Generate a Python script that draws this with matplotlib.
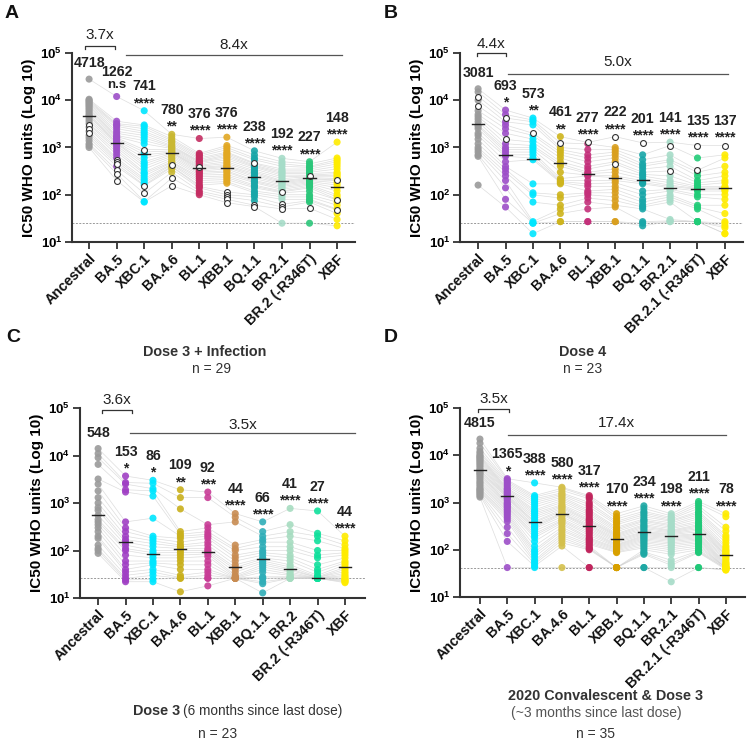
import matplotlib
matplotlib.use("Agg")
import matplotlib.pyplot as plt
import numpy as np

plt.rcParams['font.family'] = ['Liberation Sans', 'DejaVu Sans']
plt.rcParams['mathtext.fontset'] = 'custom'
plt.rcParams['mathtext.rm'] = 'Liberation Sans'
plt.rcParams['mathtext.bf'] = 'Liberation Sans:bold'

# ---------------- data ----------------
variants_A = ["Ancestral", "BA.5", "XBC.1", "BA.4.6", "BL.1", "XBB.1", "BQ.1.1", "BR.2.1", "BR.2 (-R346T)", "XBF"]
variants_B = ["Ancestral", "BA.5", "XBC.1", "BA.4.6", "BL.1", "XBB.1", "BQ.1.1", "BR.2.1", "BR.2.1 (-R346T)", "XBF"]
variants_C = ["Ancestral", "BA.5", "XBC.1", "BA.4.6", "BL.1", "XBB.1", "BQ.1.1", "BR.2", "BR.2 (-R346T)", "XBF"]
variants_D = ["Ancestral", "BA.5", "XBC.1", "BA.4.6", "BL.1", "XBB.1", "BQ.1.1", "BR.2.1", "BR.2.1 (-R346T)", "XBF"]

values_A = [
    [28000, 10500, 10000, 9500, 9000, 8500, 8000, 7500, 7000, 6500, 6000, 5500, 5000, 4700, 4500, 4000, 3600, 3200, 3000, 2700, 2500, 2200, 2000, 1800, 1600, 1400, 1200, 1100, 1000],
    [12000, 3600, 3200, 3000, 2800, 2500, 2200, 2000, 1800, 1700, 1600, 1500, 1400, 1300, 1250, 1200, 1100, 1000, 900, 800, 700, 600, 550, 500, 450, 400, 330, 280, 200],
    [6000, 3000, 2800, 2500, 2200, 2000, 1800, 1600, 1400, 1200, 900, 800, 700, 600, 500, 450, 400, 350, 300, 280, 250, 220, 200, 180, 160, 155, 107, 72, 70],
    [1900, 1700, 1500, 1400, 1300, 1200, 1100, 1050, 1000, 950, 900, 850, 800, 780, 750, 700, 650, 600, 550, 500, 480, 450, 430, 400, 390, 350, 300, 225, 155],
    [1550, 750, 700, 650, 600, 560, 520, 500, 480, 450, 420, 400, 380, 360, 340, 320, 300, 280, 260, 240, 220, 200, 180, 160, 150, 140, 120, 110, 100],
    [1650, 1100, 1000, 900, 800, 750, 700, 650, 600, 550, 500, 460, 420, 400, 380, 350, 320, 300, 270, 250, 230, 210, 190, 175, 115, 100, 90, 80, 68],
    [850, 700, 600, 550, 470, 450, 420, 400, 380, 350, 320, 300, 280, 260, 240, 220, 200, 190, 180, 160, 150, 140, 120, 110, 100, 90, 75, 60, 56],
    [590, 500, 450, 400, 350, 320, 300, 280, 260, 240, 220, 200, 190, 180, 170, 160, 150, 140, 130, 120, 115, 110, 100, 90, 80, 63, 55, 50, 25],
    [500, 450, 400, 380, 350, 320, 300, 280, 260, 250, 240, 230, 220, 210, 200, 190, 180, 170, 160, 150, 140, 120, 100, 90, 80, 75, 70, 52, 25],
    [1300, 600, 550, 500, 450, 400, 350, 300, 280, 260, 240, 220, 205, 200, 180, 160, 140, 120, 100, 90, 80, 78, 70, 60, 50, 48, 40, 30, 22],
]
open_A = [[18, 20, 22], [22, 23, 24, 26, 27, 28], [10, 25, 26], [22, 27, 28], [12], [24, 25, 26, 27, 28], [4, 27, 28], [20, 25, 26, 27], [9, 27], [12, 21, 25]]

values_B = [
    [17500, 15000, 12000, 10000, 7600, 6000, 5000, 4500, 4000, 3500, 3000, 2800, 2500, 2000, 1800, 1500, 1200, 1000, 900, 800, 700, 650, 160],
    [6200, 5000, 4200, 3500, 3000, 2500, 2000, 1480, 1200, 1000, 900, 800, 700, 650, 500, 400, 350, 300, 250, 200, 140, 80, 55],
    [4200, 3800, 3500, 3000, 2000, 1800, 1500, 1300, 1100, 1000, 900, 800, 700, 600, 550, 170, 110, 100, 70, 27, 25, 25, 15],
    [1700, 1250, 1000, 900, 800, 700, 600, 500, 450, 400, 300, 220, 200, 190, 180, 170, 100, 85, 60, 50, 40, 27, 27],
    [1280, 1200, 900, 700, 600, 500, 400, 350, 300, 280, 260, 250, 200, 170, 150, 120, 110, 100, 85, 70, 50, 27, 27],
    [1700, 1000, 900, 800, 700, 600, 500, 450, 350, 300, 250, 230, 200, 180, 150, 130, 110, 90, 75, 60, 55, 27, 27],
    [1250, 700, 550, 450, 400, 350, 300, 270, 250, 220, 200, 180, 170, 120, 100, 80, 70, 60, 55, 50, 27, 25, 22],
    [1300, 1100, 700, 550, 500, 400, 320, 250, 200, 180, 160, 150, 140, 130, 120, 100, 90, 80, 70, 30, 28, 27, 27],
    [1100, 600, 330, 300, 250, 200, 180, 160, 150, 140, 135, 130, 120, 100, 90, 60, 55, 50, 27, 27, 27, 27, 27],
    [1100, 700, 600, 400, 300, 250, 200, 180, 150, 140, 137, 130, 120, 100, 80, 60, 40, 27, 25, 22, 20, 15, 15],
]
open_B = [[2, 4], [2, 7], [4], [1], [0], [0, 7], [0], [1, 6], [0, 2], [0]]

values_C = [
    [14000, 11000, 9000, 6500, 3200, 2500, 1800, 1300, 1000, 800, 700, 550, 450, 400, 350, 300, 250, 200, 180, 130, 110, 100, 87],
    [3700, 2700, 2500, 1900, 1700, 400, 300, 250, 200, 170, 150, 130, 110, 100, 80, 60, 50, 40, 35, 30, 26, 24, 22],
    [3000, 2600, 2000, 1800, 1400, 480, 200, 180, 160, 140, 120, 100, 90, 80, 70, 60, 55, 50, 40, 35, 30, 25, 22],
    [1900, 1300, 750, 250, 220, 200, 180, 150, 130, 120, 110, 100, 90, 80, 70, 60, 50, 40, 30, 27, 26, 26, 13.5],
    [1700, 1300, 350, 300, 250, 220, 200, 180, 150, 130, 110, 100, 92, 85, 75, 60, 50, 40, 35, 30, 26, 26, 18],
    [600, 500, 400, 130, 110, 100, 80, 70, 60, 50, 44, 40, 35, 30, 28, 27, 26, 26, 26, 26, 26, 26, 26],
    [400, 250, 200, 170, 150, 120, 100, 90, 80, 70, 66, 60, 55, 50, 45, 40, 35, 28, 26, 26, 22, 20, 12.8],
    [770, 350, 250, 200, 150, 120, 100, 80, 70, 60, 50, 45, 41, 38, 35, 32, 30, 28, 27, 26, 26, 26, 26],
    [680, 230, 200, 160, 100, 80, 70, 50, 40, 35, 30, 28, 27, 27, 26, 26, 26, 26, 26, 26, 26, 26, 26],
    [200, 160, 130, 110, 100, 90, 80, 70, 60, 55, 50, 44, 40, 36, 33, 30, 28, 26, 25, 24, 23, 22, 21],
]
open_C = [[] for _ in range(10)]

values_D = [
    [22000, 18000, 14000, 12000, 11000, 10000, 9500, 9000, 8500, 8000, 7500, 7000, 6500, 6000, 5500, 5000, 4800, 4500, 4200, 4000, 3700, 3400, 3100, 2800, 2600, 2400, 2200, 2000, 1900, 1800, 1700, 1600, 1500, 1400, 1300],
    [3200, 3000, 2800, 2600, 2400, 2200, 2000, 1900, 1800, 1700, 1600, 1500, 1400, 1350, 1300, 1250, 1200, 1100, 1000, 950, 900, 850, 800, 750, 700, 650, 600, 550, 500, 450, 400, 300, 220, 150, 42],
    [2600, 1400, 1300, 1200, 1100, 1000, 900, 800, 700, 650, 600, 550, 500, 450, 400, 380, 350, 320, 300, 280, 250, 220, 200, 180, 150, 120, 100, 90, 80, 70, 60, 55, 50, 45, 42],
    [2100, 2000, 1800, 1600, 1500, 1400, 1300, 1200, 1100, 1000, 900, 850, 800, 750, 700, 650, 600, 580, 550, 500, 450, 420, 400, 370, 340, 300, 270, 250, 220, 200, 180, 160, 140, 120, 42],
    [1400, 1300, 1200, 1000, 900, 800, 700, 650, 600, 550, 500, 450, 420, 400, 370, 340, 320, 300, 280, 260, 240, 220, 200, 180, 170, 160, 150, 140, 130, 120, 110, 105, 100, 42, 42],
    [580, 500, 450, 400, 370, 340, 300, 280, 260, 240, 220, 210, 200, 190, 180, 170, 160, 150, 140, 130, 125, 120, 115, 110, 105, 100, 95, 90, 87, 42, 42, 42, 42, 42, 42],
    [850, 750, 650, 600, 550, 500, 450, 420, 400, 370, 340, 320, 300, 280, 260, 240, 230, 220, 210, 200, 190, 180, 170, 160, 150, 140, 130, 120, 110, 100, 90, 85, 80, 42, 42],
    [580, 520, 480, 450, 420, 400, 370, 340, 320, 300, 280, 260, 250, 240, 230, 220, 210, 200, 190, 180, 170, 160, 150, 140, 130, 120, 110, 100, 90, 80, 60, 52, 47, 42, 21],
    [1050, 950, 850, 750, 650, 600, 550, 500, 450, 400, 370, 340, 320, 300, 280, 260, 240, 220, 210, 200, 190, 180, 170, 160, 150, 140, 130, 120, 110, 100, 95, 90, 87, 42, 42],
    [580, 500, 300, 250, 200, 180, 160, 140, 120, 110, 100, 95, 90, 85, 80, 78, 75, 70, 65, 60, 55, 52, 50, 48, 46, 44, 42, 42, 42, 42, 40, 40, 38, 38, 37],
]
open_D = [[] for _ in range(10)]

gmt_A = [4718, 1262, 741, 780, 376, 376, 238, 192, 227, 148]
gmt_B = [3081, 693, 573, 461, 277, 222, 201, 141, 135, 137]
gmt_C = [548, 153, 86, 109, 92, 44, 66, 41, 27, 44]
gmt_D = [4815, 1365, 388, 580, 317, 170, 234, 198, 211, 78]

sig_A = ["", "n.s", "****", "**", "****", "****", "****", "****", "****", "****"]
sig_B = ["", "*", "**", "**", "****", "****", "****", "****", "****", "****"]
sig_C = ["", "*", "*", "**", "***", "****", "****", "****", "****", "****"]
sig_D = ["", "*", "****", "****", "****", "****", "****", "****", "****", "****"]

fold_A = ["3.7x", "8.4x"]
fold_B = ["4.4x", "5.0x"]
fold_C = ["3.6x", "3.5x"]
fold_D = ["3.5x", "17.4x"]

lod_A, lod_B, lod_C, lod_D = 25, 25, 26, 42

colors_A = ["#9a9a9a", "#9d4fc8", "#00e6ff", "#c9b832", "#c42d62", "#e2a823", "#18a6a8", "#a6dcc8", "#2cc67a", "#ffec00"]
colors_B = ["#9a9a9a", "#9d4fc8", "#00e6ff", "#ceb41c", "#c4307a", "#d99f1e", "#18a6a8", "#a6dcc8", "#22cc78", "#ffec00"]
colors_C = ["#9a9a9a", "#a040c4", "#00e6ff", "#c9b01c", "#c83c96", "#c88c52", "#30aeb8", "#a6dcc0", "#10e09c", "#ffec00"]
colors_D = ["#9a9a9a", "#9d4fc8", "#00e6ff", "#d4c04c", "#c0245c", "#d8a000", "#1ea8a4", "#a6dcc8", "#20c878", "#ffec00"]

W, H = 747, 741
fig = plt.figure(figsize=(W / 100, H / 100), dpi=100)


def px_axes(l, t, r, b):
    return fig.add_axes([l / W, 1 - b / H, (r - l) / W, (b - t) / H])


def ylog_px(ax, y_px):
    pos = ax.get_position()
    top = (1 - pos.y1) * H
    bot = (1 - pos.y0) * H
    lo, hi = np.log10(ax.get_ylim())
    return 10 ** (lo + (bot - y_px) / (bot - top) * (hi - lo))


def draw_panel(ax, names, vals, opens, gmts, sigs, folds, lod, cols, xlim,
               br, ln):
    n = len(vals[0])
    x = np.arange(len(names))
    for i in range(n):
        ax.plot(x, [v[i] for v in vals], color="#cfcfcf", lw=0.5, alpha=0.7, zorder=1)
    for g, v in enumerate(vals):
        v = np.asarray(v, float)
        op = np.zeros(len(v), bool)
        op[opens[g]] = True
        ax.scatter(np.full((~op).sum(), g), v[~op], s=26, color=cols[g], alpha=0.9,
                   edgecolors="none", zorder=3)
        if op.any():
            ax.scatter(np.full(op.sum(), g), v[op], s=18, facecolors="white",
                       edgecolors="#333333", linewidths=0.8, zorder=4)
        ax.plot([g - 0.22, g + 0.22], [gmts[g], gmts[g]], color="#222222", lw=1.0, zorder=5)
        top = v.max()
        if sigs[g]:
            is_ns = sigs[g] == "n.s"
            ax.annotate(sigs[g], (g, top), xytext=(0, 8 if is_ns else 5.5),
                        textcoords="offset points", ha="center", va="center",
                        fontsize=9.5 if is_ns else 10, fontweight="bold",
                        color="#222222", annotation_clip=False)
            ax.annotate(str(gmts[g]), (g, top), xytext=(0, 17.5), textcoords="offset points",
                        ha="center", va="center", fontsize=10.2, fontweight="bold",
                        color="#222222", annotation_clip=False)
        else:
            ax.annotate(str(gmts[g]), (g, top), xytext=(0, 11.5), textcoords="offset points",
                        ha="center", va="center", fontsize=10.2, fontweight="bold",
                        color="#222222", annotation_clip=False)
    ax.axhline(lod, color="#999999", lw=0.7, ls=(0, (2, 1.5)), zorder=0)
    ax.set_yscale("log")
    ax.set_ylim(10, 1e5)
    ax.set_xlim(*xlim)
    ax.set_yticks([10, 100, 1000, 1e4, 1e5])
    ax.set_yticklabels([r"$\mathbf{10^{%d}}$" % k for k in range(1, 6)], fontsize=9.5)
    ax.yaxis.set_minor_locator(matplotlib.ticker.NullLocator())
    ax.set_xticks(x)
    ax.set_xticklabels(names, rotation=45, ha="right", rotation_mode="anchor",
                       fontsize=10.3, fontweight="bold", color="#111111")
    ax.tick_params(axis="both", length=5, width=1.3, color="#333333", pad=2)
    for s in ("top", "right"):
        ax.spines[s].set_visible(False)
    for s in ("left", "bottom"):
        ax.spines[s].set_linewidth(1.5)
        ax.spines[s].set_color("#333333")
    ax.set_ylabel("IC50 WHO units (Log 10)", fontsize=11, fontweight="bold", labelpad=3)
    (bx0, bx1, by_px, bty_px), (lx0, lx1, ly_px, lty_px) = br, ln
    by = ylog_px(ax, by_px)
    byt = ylog_px(ax, by_px + 3)
    ax.plot([bx0, bx0, bx1, bx1], [byt, by, by, byt], color="#333333", lw=0.9, clip_on=False)
    ax.text((bx0 + bx1) / 2, ylog_px(ax, bty_px), folds[0], ha="center", va="center",
            fontsize=11, color="#222222")
    ly = ylog_px(ax, ly_px)
    ax.plot([lx0, lx1], [ly, ly], color="#555555", lw=0.9, clip_on=False)
    ax.text((lx0 + lx1) / 2, ylog_px(ax, lty_px), folds[1], ha="center", va="center",
            fontsize=11, color="#222222")


axA = px_axes(72, 53, 355, 242)
axB = px_axes(460, 53, 743, 242)
axC = px_axes(80, 408, 365, 598)
axD = px_axes(460, 408, 745, 597)

draw_panel(axA, variants_A, values_A, open_A, gmt_A, sig_A, fold_A, lod_A, colors_A,
           (-0.62, 9.65), (-0.15, 0.95, 45.7, 35), (1.34, 9.18, 55, 45))
draw_panel(axB, variants_B, values_B, open_B, gmt_B, sig_B, fold_B, lod_B, colors_B,
           (-0.66, 9.66), (-0.05, 1.0, 53.3, 43.5), (1.1, 9.1, 74, 61.7))
draw_panel(axC, variants_C, values_C, open_C, gmt_C, sig_C, fold_C, lod_C, colors_C,
           (-0.66, 9.73), (0.15, 1.25, 410, 400), (1.17, 9.36, 432.7, 425))
draw_panel(axD, variants_D, values_D, open_D, gmt_D, sig_D, fold_D, lod_D, colors_D,
           (-0.73, 9.7), (-0.07, 1.06, 409.5, 399), (1.02, 9.0, 435, 423.3))


def ftext(x, y, s, **kw):
    fig.text(x / W, 1 - y / H, s, **kw)


for lab, (x, y) in zip("ABCD", [(12, 13), (391, 13), (13, 337), (391, 337)]):
    ftext(x, y, lab, fontsize=14, fontweight="bold", ha="center", va="center", color="#111111")

tc = "#333333"
ftext(205, 352, "Dose 3 + Infection", fontsize=10.4, fontweight="bold", ha="center", va="center", color=tc)
ftext(212, 369, "n = 29", fontsize=10, ha="center", va="center", color=tc)
ftext(583, 352, "Dose 4", fontsize=10.4, fontweight="bold", ha="center", va="center", color=tc)
ftext(583, 369, "n = 23", fontsize=10, ha="center", va="center", color=tc)
ftext(180, 711, "Dose 3", fontsize=10.4, fontweight="bold", ha="right", va="center", color=tc)
ftext(183, 711, "(6 months since last dose)", fontsize=9.8, ha="left", va="center", color=tc)
ftext(218, 734, "n = 23", fontsize=10, ha="center", va="center", color=tc)
ftext(605, 696, "2020 Convalescent & Dose 3", fontsize=10.4, fontweight="bold", ha="center", va="center", color=tc)
ftext(596, 713, "(~3 months since last dose)", fontsize=10, ha="center", va="center", color="#555555")
ftext(596, 734, "n = 35", fontsize=10, ha="center", va="center", color=tc)

fig.savefig("out.png", dpi=100)
